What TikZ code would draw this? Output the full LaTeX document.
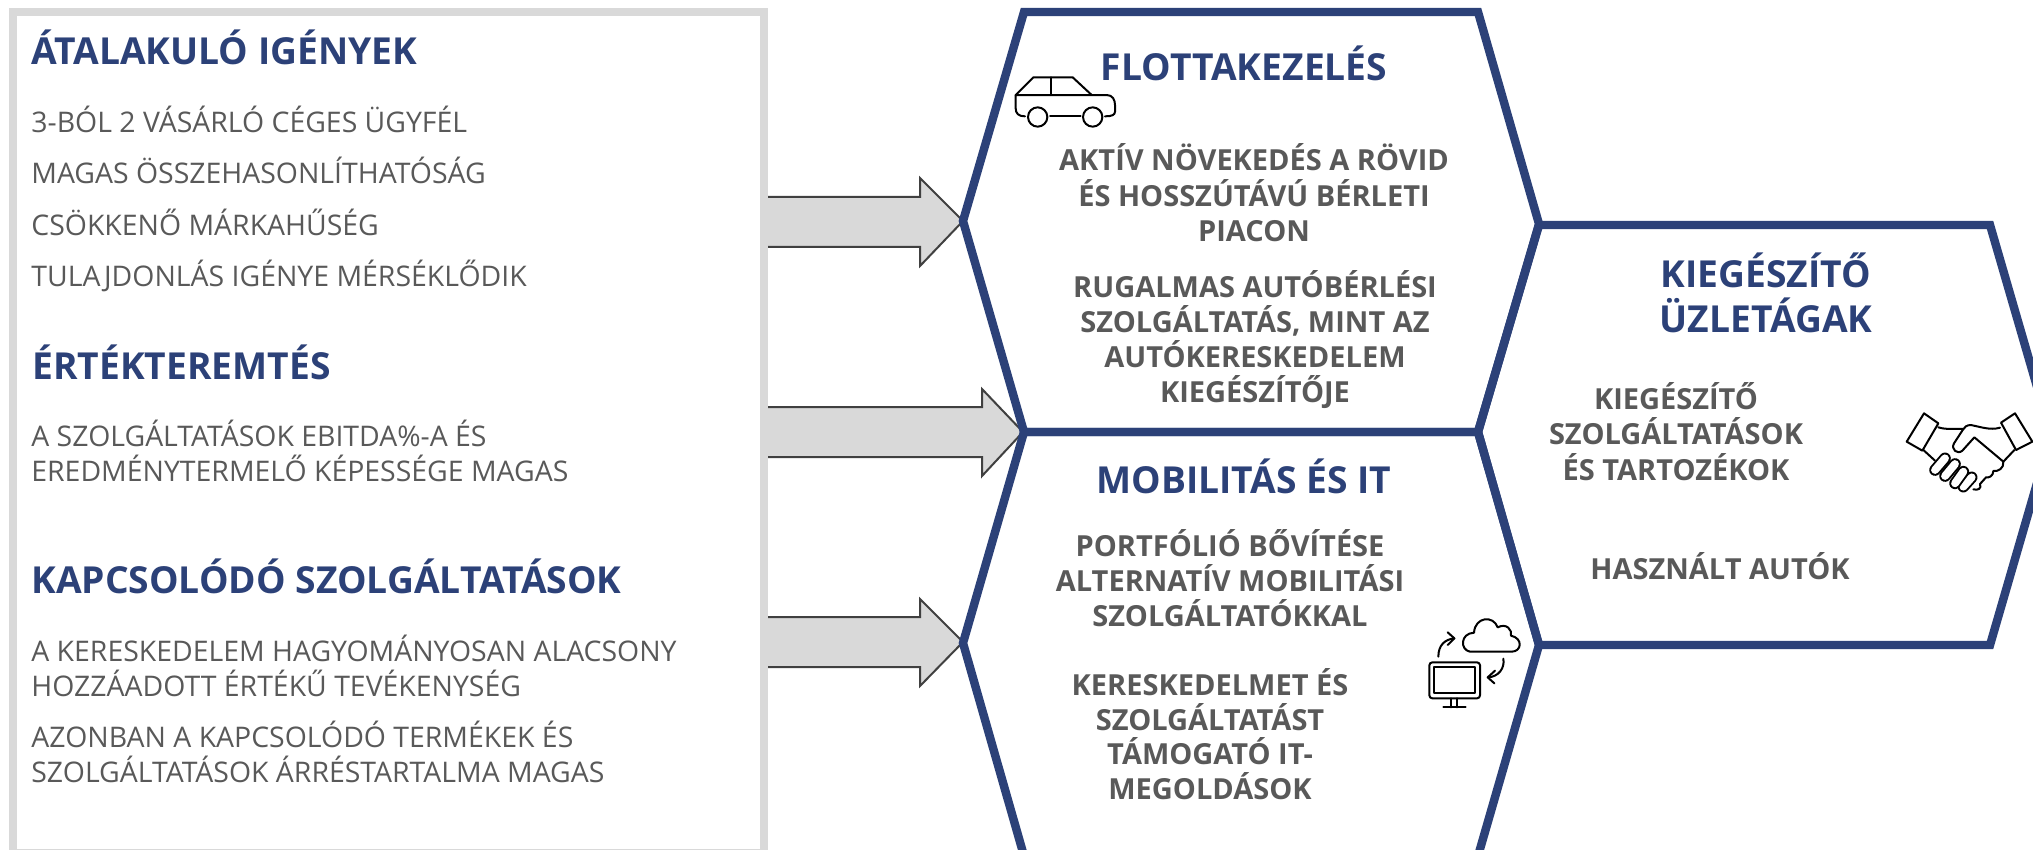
\documentclass[tikz,border=0pt]{standalone}
\usepackage{fontspec}
\setmainfont{Open Sans}
\definecolor{navy}{HTML}{2C4178}
\definecolor{txt}{HTML}{595959}
\definecolor{boxgray}{HTML}{D9D9D9}
\definecolor{arrowline}{HTML}{404040}
\tikzset{
  x=0.5pt,y=-0.5pt,
  head/.style={inner sep=0,font=\fontsize{18.6}{20}\selectfont\bfseries,text=navy},
  body/.style={inner sep=0,anchor=base west,font=\fontsize{14.2}{16}\selectfont,text=txt},
  bold/.style={inner sep=0,anchor=base,font=\fontsize{14.5}{16}\selectfont\bfseries,text=txt},
  hexa/.style={draw=navy,line width=4.2pt,line join=miter},
  blockarrow/.style={draw=arrowline,fill=boxgray,line width=1pt,line join=miter},
  icon/.style={draw=black,line width=1pt,line cap=round,line join=round},
}
\begin{document}
\begin{tikzpicture}
\clip (0,0) rectangle (2033,850);
\fill[white] (0,0) rectangle (2033,850);
% block arrows
\draw[blockarrow] (760,197) -- (920,197) -- (920,178) -- (963,221) -- (920,266) -- (920,247) -- (760,247) -- cycle;
\draw[blockarrow] (760,407) -- (982,407) -- (982,389) -- (1023,432) -- (982,476) -- (982,457) -- (760,457) -- cycle;
\draw[blockarrow] (760,617) -- (920,617) -- (920,599) -- (963,642) -- (920,686) -- (920,667) -- (760,667) -- cycle;
% left panel
\draw[draw=boxgray,fill=white,line width=4pt] (13,12) rectangle (764,853);
% hexagons
\draw[hexa] (1024,12) -- (1478,12) -- (1539,224) -- (1478,432) -- (1024,432) -- (963,221) -- cycle;
\draw[hexa] (1024,432) -- (1478,432) -- (1539,645) -- (1478,856) -- (1024,856) -- (963,643) -- cycle;
\draw[hexa] (1539,225) -- (1990,225) -- (2051,435) -- (1990,645) -- (1539,645) -- (1478,432) -- cycle;
% left texts
\node[head,anchor=base west] (h1) at (31,65) {ÁTALAKULÓ IGÉNYEK};
\node[body] (t1) at (31,133) {3-BÓL 2 VÁSÁRLÓ CÉGES ÜGYFÉL};
\node[body] (t2) at (31,184) {MAGAS ÖSSZEHASONLÍTHATÓSÁG};
\node[body] (t3) at (31,235) {CSÖKKENŐ MÁRKAHŰSÉG};
\node[body] (t4) at (31,286) {TULAJDONLÁS IGÉNYE MÉRSÉKLŐDIK};
\node[head,anchor=base west] (h2) at (32,379) {ÉRTÉKTEREMTÉS};
\node[body] (t5) at (31,446) {A SZOLGÁLTATÁSOK EBITDA\%-A ÉS};
\node[body] (t6) at (31,481) {EREDMÉNYTERMELŐ KÉPESSÉGE MAGAS};
\node[head,anchor=base west] (h3) at (31,593) {KAPCSOLÓDÓ SZOLGÁLTATÁSOK};
\node[body] (t7) at (31,661) {A KERESKEDELEM HAGYOMÁNYOSAN ALACSONY};
\node[body] (t8) at (31,696) {HOZZÁADOTT ÉRTÉKŰ TEVÉKENYSÉG};
\node[body] (t9) at (31,747) {AZONBAN A KAPCSOLÓDÓ TERMÉKEK ÉS};
\node[body] (t10) at (31,782) {SZOLGÁLTATÁSOK ÁRRÉSTARTALMA MAGAS};
% hexagon 1 texts
\node[head,anchor=base] (f0) at (1244,81) {FLOTTAKEZELÉS};
\node[bold] (f1) at (1254,171) {AKTÍV NÖVEKEDÉS A RÖVID};
\node[bold] (f2) at (1254,207) {ÉS HOSSZÚTÁVÚ BÉRLETI};
\node[bold] (f3) at (1254,242) {PIACON};
\node[bold] (f4) at (1255,297) {RUGALMAS AUTÓBÉRLÉSI};
\node[bold] (f5) at (1255,332) {SZOLGÁLTATÁS, MINT AZ};
\node[bold] (f6) at (1255,367) {AUTÓKERESKEDELEM};
\node[bold] (f7) at (1255,402) {KIEGÉSZÍTŐJE};
% hexagon 2 texts
\node[head,anchor=base] (m0) at (1244,493) {MOBILITÁS ÉS IT};
\node[bold] (m1) at (1230,556) {PORTFÓLIÓ BŐVÍTÉSE};
\node[bold] (m2) at (1230,591) {ALTERNATÍV MOBILITÁSI};
\node[bold] (m3) at (1230,626) {SZOLGÁLTATÓKKAL};
\node[bold] (m4) at (1210,695) {KERESKEDELMET ÉS};
\node[bold] (m5) at (1210,730) {SZOLGÁLTATÁST};
\node[bold] (m6) at (1210,764) {TÁMOGATÓ IT-};
\node[bold] (m7) at (1210,799) {MEGOLDÁSOK};
% hexagon 3 texts
\node[head,anchor=base] (k0) at (1766,287) {KIEGÉSZÍTŐ};
\node[head,anchor=base] (k1) at (1766,332) {ÜZLETÁGAK};
\node[bold] (k2) at (1676,409) {KIEGÉSZÍTŐ};
\node[bold] (k3) at (1676,444) {SZOLGÁLTATÁSOK};
\node[bold] (k4) at (1676,480) {ÉS TARTOZÉKOK};
\node[bold] (k5) at (1720,579) {HASZNÁLT AUTÓK};
% car icon
\begin{scope}[shift={(950,0)},x=0.16667pt,y=-0.16667pt,icon]
\draw (197,285) -- (250,232) -- (368,232) -- (425,285);
\draw (225,349) .. controls (205,349) and (197,340) .. (197,325) -- (197,285) -- (470,285) .. controls (488,285) and (495,300) .. (495,315) -- (495,335) .. controls (495,345) and (485,349) .. (465,349);
\draw (304,232) -- (304,285);
\draw (300,349) -- (392,349);
\draw (263,351) circle[radius=29];
\draw (428,351) circle[radius=29];
\end{scope}
% handshake icon
\begin{scope}[shift={(1880,390)},x=0.16667pt,y=-0.16667pt,icon]
\draw (132,70) -- (175,100) -- (127,182) -- (80,155) -- cycle;
\draw (405,70) -- (363,98) -- (408,180) -- (457,155) -- cycle;
\draw (175,112) .. controls (200,120) and (225,115) .. (250,117);
\draw (360,113) .. controls (330,122) and (300,110) .. (272,105) .. controls (260,105) and (252,112) .. (248,120) -- (222,160) .. controls (212,178) and (232,195) .. (247,182) -- (283,142) -- (370,215);
\draw (130,180) -- (165,212);
\draw (403,180) -- (370,215) .. controls (372,235) and (355,245) .. (340,243) .. controls (340,258) and (325,265) .. (318,262) -- (300,282) .. controls (305,295) and (295,302) .. (280,298);
\foreach \a/\b/\c/\d in {275/262/250/290,250/245/225/280,225/222/195/258,195/205/165/240}{
  \draw[line width=5.8pt,line cap=round,draw=black] (\a,\b) -- (\c,\d);
  \draw[line width=3.9pt,line cap=round,draw=white] (\a,\b) -- (\c,\d);
}
\end{scope}
% computer and cloud icon
\begin{scope}[shift={(1400,600)},x=0.16667pt,y=-0.16667pt,icon]
\draw (210,155) .. controls (180,150) and (180,100) .. (222,98) .. controls (225,50) and (280,45) .. (293,82) .. controls (320,68) and (337,90) .. (333,107) .. controls (370,115) and (365,155) .. (335,155) -- cycle;
\draw (115,170) .. controls (115,135) and (135,118) .. (163,115);
\draw (143,97) -- (163,115) -- (143,135);
\draw (310,176) .. controls (315,205) and (295,230) .. (265,232);
\draw (285,212) -- (263,232) -- (283,250);
\draw[rounded corners=1.5pt] (88,187) rectangle (240,295);
\draw (102,202) rectangle (226,280);
\draw (152,295) -- (152,322);
\draw (172,295) -- (172,322);
\draw (130,322) -- (197,322);
\end{scope}
\end{tikzpicture}
\end{document}
